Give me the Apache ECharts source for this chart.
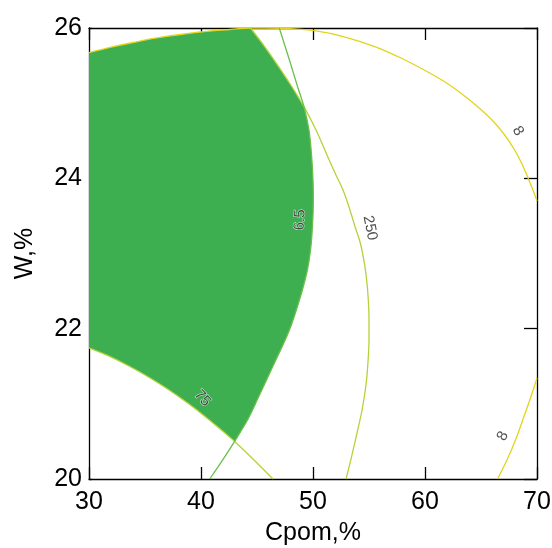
<!DOCTYPE html>
<html><head><meta charset="utf-8">
<script src="https://cdn.jsdelivr.net/npm/echarts@6/dist/echarts.min.js"></script>
<style>html,body{margin:0;padding:0;background:#fff}#c{width:552px;height:548px}</style>
</head><body><div id="c"></div>
<script>
// ---- data ----
const xRange = [30, 70], xStep = 10;
const yRange = [20, 26], yStep = 2;
const xName = 'Cpom,%';
const yName = 'W,%';

const contour8Upper = [[30,25.671],[31.88,25.741],[33.93,25.807],[36.34,25.874],[39.91,25.947],[42.59,25.98],[44.42,26.0],[45.71,26.0],[47.5,25.996],[50.0,25.967],[52.86,25.88],[55.63,25.747],[57.95,25.594],[60.09,25.428],[61.79,25.282],[63.3,25.122],[64.73,24.949],[65.98,24.776],[67.05,24.59],[67.95,24.39],[68.66,24.191],[69.2,24.005],[69.64,23.845],[70.0,23.699]];
const contour8Lower = [[66.47,20.0],[67.32,20.253],[68.08,20.519],[68.79,20.812],[69.42,21.078],[70.0,21.344]];
const contour250 = [[44.42,26.0],[45.71,25.747],[46.96,25.481],[48.13,25.215],[49.2,24.95],[50.27,24.643],[51.25,24.31],[52.05,24.044],[52.68,23.845],[53.3,23.579],[53.79,23.339],[54.2,23.153],[54.51,22.94],[54.73,22.727],[54.91,22.448],[55.0,22.116],[55.0,21.85],[54.91,21.557],[54.73,21.251],[54.38,20.918],[53.93,20.612],[53.48,20.32],[52.95,20.0]];
const contour65 = [[46.99,26.0],[47.95,25.548],[48.66,25.202],[49.2,24.95],[49.64,24.643],[49.87,24.31],[50.0,23.978],[50.03,23.712],[49.96,23.379],[49.78,23.047],[49.46,22.754],[48.79,22.382],[47.86,21.969],[46.43,21.504],[45.18,21.104],[44.2,20.798],[43.0,20.5],[41.88,20.24],[40.78,20.0]];
const contour75 = [[30,21.745],[31.7,21.641],[33.48,21.51],[35.27,21.361],[37.05,21.194],[38.84,21.007],[40.36,20.833],[41.79,20.656],[43.0,20.5],[44.46,20.293],[46.43,20.0]];

const labelTexts = ['8', '8', '250', '6.5', '75'];
const labelPoints = [[68.3,24.63],[66.94,20.572],[55.09,23.34],[48.84,23.446],[40.12,21.074]];

// ---- helpers ----
function idx(arr, p){ return arr.findIndex(q => q[0] === p[0] && q[1] === p[1]); }
function between(arr, a, b){
  const i = idx(arr, a), j = idx(arr, b);
  return i <= j ? arr.slice(i, j + 1) : arr.slice(j, i + 1).reverse();
}
function catmull(pts, n){
  const out = [];
  for (let i = 0; i < pts.length - 1; i++){
    const p0 = pts[i - 1] || pts[i], p1 = pts[i], p2 = pts[i + 1], p3 = pts[i + 2] || pts[i + 1];
    for (let k = 0; k < n; k++){
      const t = k / n, t2 = t * t, t3 = t2 * t;
      const f = (a, b, c, d) => 0.5 * ((2 * b) + (-a + c) * t + (2 * a - 5 * b + 4 * c - d) * t2 + (-a + 3 * b - 3 * c + d) * t3);
      out.push([f(p0[0], p1[0], p2[0], p3[0]), f(p0[1], p1[1], p2[1], p3[1])]);
    }
  }
  out.push(pts[pts.length - 1]);
  return out;
}

const FONT = 'Arial, "Liberation Sans", sans-serif';
const fillColor = '#3daf51';
const labelRotate = [-60, 62, -79, 87, -48];

const chart = echarts.init(document.getElementById('c'), null, {renderer: 'canvas'});

function axisX(pos, labels){
  return {
    type: 'value', min: xRange[0], max: xRange[1], interval: xStep, position: pos,
    axisLine: {show: true, onZero: false, lineStyle: {color: '#000', width: 1.3}},
    axisTick: {show: true, inside: true, length: 12, lineStyle: {color: '#000', width: 1.3}},
    axisLabel: {show: labels, margin: 11, fontSize: 25, color: '#000', fontFamily: FONT},
    splitLine: {show: false},
    name: labels ? xName : '', nameLocation: 'middle', nameGap: 42,
    nameTextStyle: {fontSize: 25, color: '#000', fontFamily: FONT}
  };
}
function axisY(pos, labels, tickLen){
  return {
    type: 'value', min: yRange[0], max: yRange[1], interval: yStep, position: pos,
    axisLine: {show: true, onZero: false, lineStyle: {color: '#000', width: 1.3}},
    axisTick: {show: true, inside: true, length: tickLen, lineStyle: {color: '#000', width: 1.3}},
    axisLabel: {show: labels, margin: 7, fontSize: 25, color: '#000', fontFamily: FONT},
    splitLine: {show: false},
    name: labels ? yName : '', nameLocation: 'middle', nameGap: 51,
    nameTextStyle: {fontSize: 25, color: '#000', fontFamily: FONT}
  };
}
function lineSeries(data, color){
  return {type: 'line', data: data, showSymbol: false, smooth: 0.33, silent: true,
    lineStyle: {color: color, width: 1.3}, clip: true, z: 3, animation: false};
}

const regionSegs = [
  between(contour8Upper, [30,25.671], [44.42,26.0]),
  between(contour250, [44.42,26.0], [49.2,24.95]),
  between(contour65, [49.2,24.95], [43.0,20.5]),
  between(contour75, [43.0,20.5], [30,21.745])
];

chart.setOption({
  animation: false,
  grid: {left: 89, right: 15, top: 28, bottom: 69, containLabel: false, outerBoundsMode: 'none'},
  xAxis: [axisX('bottom', true), axisX('top', false)],
  yAxis: [axisY('left', true, 3), axisY('right', false, 13)],
  series: [
    {
      type: 'custom', data: [[xRange[0], yRange[0]]], silent: true, z: 1,
      renderItem: function(params, api){
        let pts = [];
        regionSegs.forEach(seg => {
          const sm = catmull(seg.map(p => api.coord(p)), 10);
          if (pts.length) sm.shift();
          pts = pts.concat(sm);
        });
        return {type: 'polygon', shape: {points: pts}, style: {fill: fillColor, stroke: null}};
      }
    },
    lineSeries(contour8Upper, '#e2d41c'),
    lineSeries(contour8Lower, '#e2d41c'),
    lineSeries(contour250, '#b3d338'),
    lineSeries(contour75, '#b3d338'),
    lineSeries(contour65, '#6cbf48'),
    {
      type: 'scatter', symbolSize: 0, silent: true, z: 5,
      data: labelPoints.map((p, i) => ({
        value: p,
        label: {show: true, position: 'inside', formatter: labelTexts[i], rotate: labelRotate[i],
          fontSize: 15, color: '#222', fontFamily: FONT, textBorderColor: '#fff', textBorderWidth: 1}
      }))
    }
  ]
});
</script></body></html>
